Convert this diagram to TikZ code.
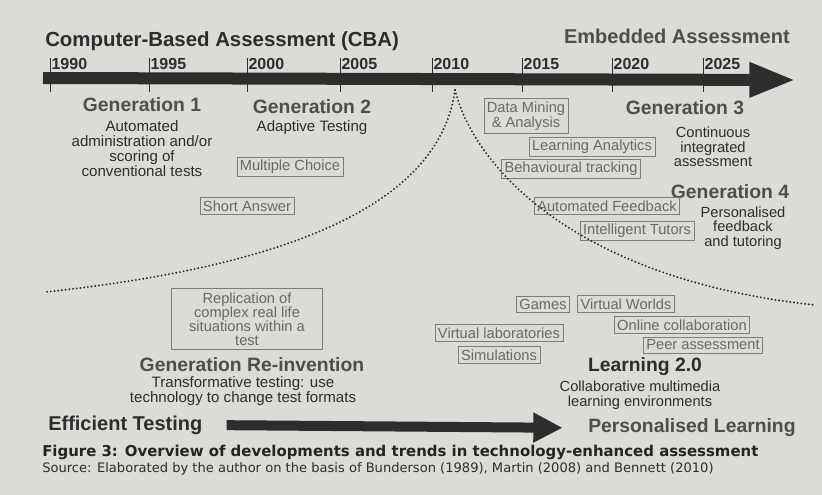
\documentclass[tikz,border=0pt]{standalone}
\usepackage{fontspec}
\setmainfont{Liberation Sans}
\newfontfamily\capfont{DejaVu Sans}
\usetikzlibrary{arrows.meta}

\definecolor{paper}{RGB}{219,219,216}
\definecolor{ink}{RGB}{45,45,45}
\definecolor{greyink}{RGB}{78,78,78}
\definecolor{boxink}{RGB}{105,105,105}
\definecolor{boxline}{RGB}{125,125,125}

\tikzset{
	genhead/.style={font=\fontsize{14.5}{15}\selectfont\bfseries, text=greyink, inner sep=0pt},
	gendesc/.style={font=\fontsize{11.3}{11.2}\selectfont, text=ink, align=center, inner sep=0pt},
	techbox/.style={draw=boxline, line width=0.5pt, font=\fontsize{11}{11.2}\selectfont, text=boxink, inner sep=2.2pt, align=center},
	yearlabel/.style={font=\fontsize{12}{12}\selectfont\bfseries, text=ink, anchor=south west, inner sep=1pt},
	trendline/.style={ink, line width=1.6pt, dash pattern=on 0pt off 2.8pt, line cap=round},
}

\begin{document}
\begin{tikzpicture}[x=0.75pt, y=-0.75pt]
	\fill[paper] (0,0) rectangle (822,495);
	\useasboundingbox (0,0) rectangle (822,495);

	\node[font=\fontsize{15.3}{15}\selectfont\bfseries, text=ink, anchor=west, inner sep=0pt] (cba) at (45,41) {Computer-Based Assessment (CBA)};
	\node[font=\fontsize{15}{15}\selectfont\bfseries, text=greyink, anchor=east, inner sep=0pt] (embedded) at (790,36) {Embedded Assessment};

	% time line
	\coordinate (tstart) at (43,78);
	\coordinate (tend) at (796,80);
	\draw[ink, line width=9pt, -{Triangle[length=35pt,width=24pt]}] (tstart) -- (tend);
	\foreach \x/\yr in {50/1990, 149/1995, 247/2000, 340/2005, 432/2010, 522/2015, 612/2020, 703/2025} {
		\draw [ink, line width=0.6pt] (\x,58) -- (\x,92);
		\node[yearlabel] (y\yr) at (\x,71) {\yr};
	}

	\node[genhead] (gen1) at (142,105) {Generation 1};
	\node[gendesc] (desc1) at (142,149) {Automated\\administration and/or\\scoring of\\conventional tests};
	\node[genhead] (gen2) at (312,107) {Generation 2};
	\node[gendesc] (desc2) at (312,128) {Adaptive Testing};
	\node[genhead] (gen3) at (685,108) {Generation 3};
	\node[gendesc, font=\fontsize{11}{11}\selectfont] (desc3) at (713,147) {Continuous\\integrated\\assessment};
	\node[genhead] (gen4) at (730,192) {Generation 4};
	\node[gendesc, font=\fontsize{11}{11}\selectfont] (desc4) at (743,228) {Personalised\\feedback\\and tutoring};

	\node[techbox] (choice) at (290,167) {Multiple Choice};
	\node[techbox] (short) at (247,206) {Short Answer};
	\node[techbox] (mining) at (526,116) {Data Mining\\\& Analysis};
	\node[techbox] (analytics) at (592,147) {Learning Analytics};
	\node[techbox] (tracking) at (571,169) {Behavioural tracking};
	\node[techbox] (feedback) at (607,206) {Automated Feedback};
	\node[techbox] (tutors) at (637,231) {Intelligent Tutors};

	% the two paths leaving 2010
	\coordinate (split) at (455,90);
	\coordinate (reinv) at (45,292);
	\coordinate (learn) at (815,305);
	\draw[trendline] (split) .. controls (440,200) and (300,265) .. (reinv);
	\draw[trendline] (split) .. controls (475,170) and (580,280) .. (learn);

	\node[techbox, font=\fontsize{11}{10.5}\selectfont, minimum width=113pt, minimum height=46pt] (replica) at (247,319) {Replication of\\complex real life\\situations within a\\test};
	\node[genhead] (genre) at (252,365) {Generation Re-invention};
	\node[gendesc, font=\fontsize{11.3}{10.8}\selectfont] (descre) at (243,391) {Transformative testing: use\\technology to change test formats};

	\node[techbox] (games) at (543,304) {Games};
	\node[techbox] (worlds) at (626,304) {Virtual Worlds};
	\node[techbox] (online) at (682,325) {Online collaboration};
	\node[techbox] (peer) at (703,345) {Peer assessment};
	\node[techbox] (labs) at (499,333) {Virtual laboratories};
	\node[techbox] (sims) at (499,355) {Simulations};
	\node[genhead, text=ink] (learning) at (645,367) {Learning 2.0};
	\node[gendesc, font=\fontsize{11}{11}\selectfont] (desclearn) at (640,395) {Collaborative multimedia\\learning environments};

	\node[font=\fontsize{15}{15}\selectfont\bfseries, text=ink, anchor=west, inner sep=0pt] (efficient) at (48,425) {Efficient Testing};
	\node[font=\fontsize{14.5}{15}\selectfont\bfseries, text=greyink, anchor=west, inner sep=0pt] (personal) at (588,428) {Personalised Learning};
	\draw[ink, line width=7.5pt, shorten <=18pt, shorten >=19pt, -{Triangle[length=22pt,width=21pt]}] (efficient.east) -- (personal.west);

	\node[font=\capfont\fontsize{11.2}{11}\selectfont\bfseries, text=ink!80!black, anchor=west, inner sep=0pt] (caption) at (42,452) {Figure 3: Overview of developments and trends in technology-enhanced assessment};
	\node[font=\capfont\fontsize{9.8}{10}\selectfont, text=ink, anchor=west, inner sep=0pt] (source) at (42,469) {Source: Elaborated by the author on the basis of Bunderson (1989), Martin (2008) and Bennett (2010)};
\end{tikzpicture}
\end{document}
